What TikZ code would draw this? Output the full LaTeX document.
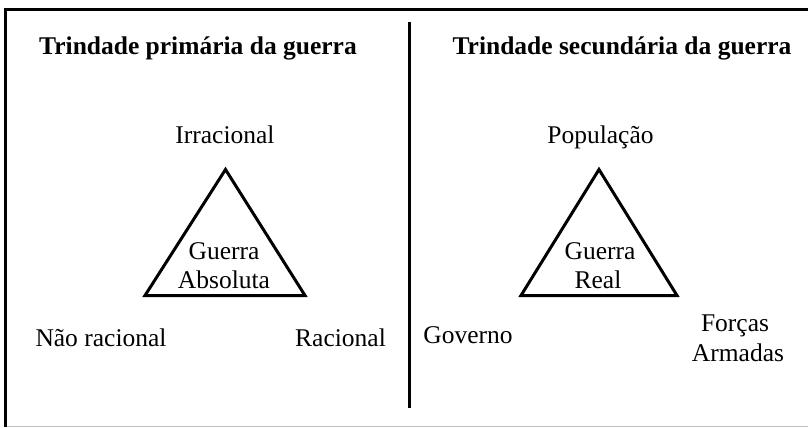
\documentclass[tikz,border=0pt]{standalone}
\usepackage{fontspec}
\setmainfont{Liberation Serif}
\begin{document}
\begin{tikzpicture}[x=1pt,y=-1pt,
  lbl/.style={font=\fontsize{25.5}{29}\selectfont, inner sep=0pt, anchor=base},
  ttl/.style={font=\fontsize{25.5}{29}\selectfont\bfseries, inner sep=0pt, anchor=base},
  tri/.style={line width=3pt, line join=miter},
  rule/.style={line width=3pt}]
\useasboundingbox (0,0) rectangle (808,428);
\fill[white] (0,0) rectangle (808,428);
% frame
\draw[rule] (5,427) -- (5,10) -- (808,10);
\draw[black!25, line width=1.5pt] (6.5,426.5) -- (808,426.5);
% divider
\draw[rule] (409,22) -- (409,408);
% titles
\node[ttl] (t1) at (198,55) {Trindade primária da guerra};
\node[ttl] (t2) at (622,55) {Trindade secundária da guerra};
% left triangle
\coordinate (la) at (225.5,169.5);
\coordinate (lb) at (145,295.5);
\coordinate (lc) at (305,295.5);
\draw[tri] (la) -- (lb) -- (lc) -- cycle;
\node[lbl] (irr) at (225,143) {Irracional};
\node[lbl] (g1) at (224,259) {Guerra};
\node[lbl] (abs) at (224,288) {Absoluta};
\node[lbl] (nrac) at (101,346.5) {Não racional};
\node[lbl] (rac) at (340.5,346.5) {Racional};
% right triangle
\coordinate (ra) at (599,169.5);
\coordinate (rb) at (521,295.5);
\coordinate (rc) at (677,295.5);
\draw[tri] (ra) -- (rb) -- (rc) -- cycle;
\node[lbl] (pop) at (600.5,143) {População};
\node[lbl] (g2) at (600,259) {Guerra};
\node[lbl] (real) at (598,288) {Real};
\node[lbl] (gov) at (468,343) {Governo};
\node[lbl] (forc) at (735,331.5) {Forças};
\node[lbl] (arm) at (738,361.5) {Armadas};
\end{tikzpicture}
\end{document}
